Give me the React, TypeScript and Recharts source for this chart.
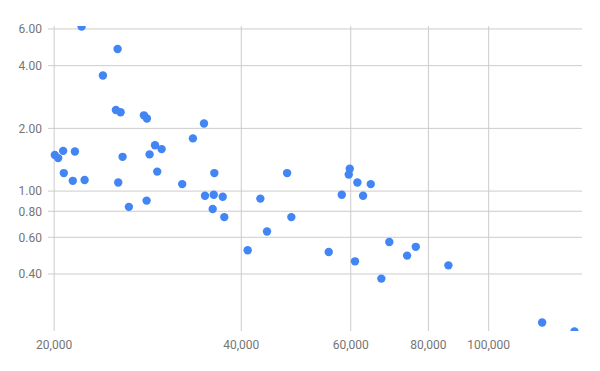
import { ScatterChart, Scatter, XAxis, YAxis, CartesianGrid } from 'recharts';

// x = population-ish value, y = ratio (both log scale)
const xValues = [
  22140, 25300, 23960, 25140, 25580, 27890, 28200, 34840, 33440, 20050,
  20300, 20680, 21600, 25770, 28480, 29060, 29780, 20730, 21430, 22390,
  29300, 25360, 32140, 28170, 26380, 36200, 47400, 59780, 59560, 61490,
  64620, 34970, 36120, 37340, 42930, 58040, 62800, 35980, 37560, 48150,
  44000, 69210, 40960, 55300, 60950, 67200, 76340, 73930, 86150, 121900,
  137400,
];
const yValues = [
  6.16, 4.81, 3.59, 2.45, 2.39, 2.31, 2.23, 2.11, 1.79, 1.49,
  1.44, 1.56, 1.55, 1.46, 1.5, 1.66, 1.59, 1.22, 1.12, 1.13,
  1.24, 1.1, 1.08, 0.9, 0.84, 1.22, 1.22, 1.28, 1.2, 1.1,
  1.08, 0.95, 0.96, 0.94, 0.92, 0.96, 0.95, 0.82, 0.75, 0.75,
  0.64, 0.57, 0.52, 0.51, 0.46, 0.38, 0.54, 0.49, 0.44, 0.234,
  0.212,
];
const xTicks = [20000, 40000, 60000, 80000, 100000];
const yTicks = [0.4, 0.6, 0.8, 1, 2, 4, 6];

const data = xValues.map((x, i) => ({ x, y: yValues[i] }));

const tickStyle = { fill: '#757575', fontSize: 12, fontFamily: 'Roboto' };

export default function App() {
  return (
    <div style={{ position: 'absolute', left: 0, top: 0, fontFamily: 'Roboto' }}>
      <ScatterChart width={600} height={371} margin={{ top: 26, right: 18, bottom: 0, left: 0 }}>
        {/* only lines at the ticks, no border box */}
        <CartesianGrid stroke="#cccccc" syncWithTicks />
        <XAxis
          type="number"
          dataKey="x"
          scale="log"
          domain={[19550, 141300]}
          allowDataOverflow
          ticks={xTicks}
          interval={0}
          axisLine={false}
          tickLine={false}
          tickSize={7}
          tickMargin={2}
          height={40}
          tick={tickStyle}
          tickFormatter={(v: number) => v.toLocaleString('en-US')}
        />
        <YAxis
          type="number"
          dataKey="y"
          scale="log"
          domain={[0.213, 6.2]}
          allowDataOverflow
          ticks={yTicks}
          interval={0}
          axisLine={false}
          tickLine={false}
          tickSize={4}
          tickMargin={2}
          width={48}
          tick={tickStyle}
          tickFormatter={(v: number) => v.toFixed(2)}
        />
        <Scatter
          data={data}
          fill="#4285f4"
          isAnimationActive={false}
          shape={(p: any) => <circle cx={p.cx} cy={p.cy} r={4.2} fill="#4285f4" />}
        />
      </ScatterChart>
    </div>
  );
}
